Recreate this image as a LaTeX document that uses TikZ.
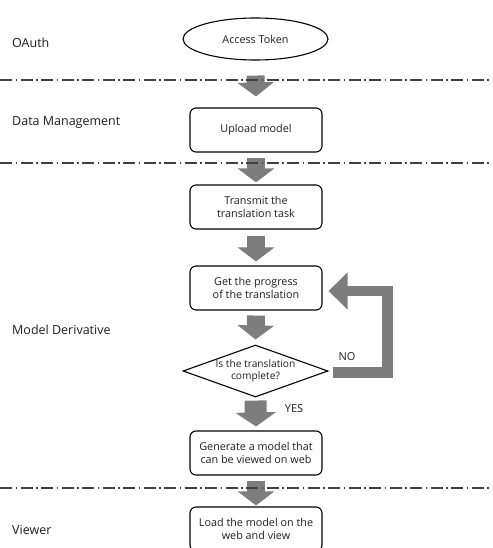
\documentclass[tikz,border=0pt]{standalone}
\usepackage{fontspec}
\setmainfont{Open Sans}
\usetikzlibrary{shapes.geometric,arrows.meta}
\definecolor{arrowgray}{RGB}{125,125,125}
\definecolor{txt}{RGB}{30,30,30}
\tikzset{
  box/.style={draw, line width=1.1pt, rounded corners=6pt, minimum width=132pt, minimum height=44pt, align=center, font=\fontsize{10.8}{13}\selectfont, text=txt, inner sep=1pt},
  oval/.style={draw, ellipse, line width=1.1pt, minimum width=145pt, minimum height=42pt, font=\fontsize{10.8}{13}\selectfont, text=txt, inner sep=0pt},
  decision/.style={draw, diamond, line width=1.1pt, minimum width=145pt, minimum height=52pt, aspect=2.8, align=center, font=\fontsize{10.2}{11.5}\selectfont, text=txt, inner sep=0pt},
  lane/.style={anchor=west, inner sep=0pt, font=\fontsize{12.5}{14}\selectfont, text=txt},
  sep/.style={draw=black!75, line width=1.1pt, dash pattern=on 12pt off 3.5pt on 1.5pt off 3.5pt},
  blockarrow/.style={draw=arrowgray, line width=18pt, -{Triangle[length=14pt, width=36pt]}, arrowgray},
  fbarrow/.style={draw=arrowgray, line width=10.5pt, line join=miter, -{Triangle[length=19pt, width=36pt]}, arrowgray},
  small/.style={font=\fontsize{11}{12}\selectfont, text=txt}
}
\begin{document}
\begin{tikzpicture}[x=1pt,y=-1pt]
\useasboundingbox (0,0) rectangle (492,548);
% separators
\coordinate (s1l) at (0,80);   \coordinate (s1r) at (492,80);
\coordinate (s2l) at (0,163);  \coordinate (s2r) at (492,163);
\coordinate (s3l) at (0,488);  \coordinate (s3r) at (492,488);
% lane labels
\node[lane] (l1) at (12,43) {OAuth};
\node[lane] (l2) at (12,123) {Data Management};
\node[lane] (l3) at (12,330) {Model Derivative};
\node[lane] (l4) at (12,530) {Viewer};
% nodes
\node[oval] (tok) at (255.5,39) {Access Token};
\node[box] (up) at (256,130) {Upload model};
\node[box] (tr) at (256,207) {Transmit the\\translation task};
\node[box] (gp) at (256,288) {Get the progress\\of the translation};
\node[decision] (dc) at (255.5,371) {Is the translation\\complete?};
\node[box] (gen) at (256,453) {Generate a model that\\can be viewed on web};
\node[box] (ld) at (256,529) {Load the model on the\\web and view};
% block arrows
\draw[blockarrow] ([yshift=-15pt]tok.south) -- ([yshift=11pt]up.north);
\draw[sep] (s1l) -- (s1r);
\draw[blockarrow] ([yshift=-5pt]up.south) -- ([yshift=2pt]tr.north);
\draw[sep] (s2l) -- (s2r);
\draw[blockarrow] ([yshift=-6pt]tr.south) -- ([yshift=4pt]gp.north);
\draw[blockarrow] ([yshift=-5pt]gp.south) -- ([yshift=5pt]dc.north);
\draw[blockarrow, line width=22pt, -{Triangle[length=14pt, width=40pt]}] ([yshift=-3pt]dc.south) -- ([yshift=4pt]gen.north);
\draw[blockarrow] ([yshift=-5pt]gen.south) -- ([yshift=1pt]ld.north);
\draw[sep] (s3l) -- (s3r);
% feedback
\coordinate (fb) at (387.5,291);
\draw[fbarrow] ([xshift=4pt,yshift=-1.5pt]dc.east) -| (fb) -- ([xshift=6pt,yshift=-3pt]gp.east);
\node[small] (no) at (347,357) {NO};
\node[small] (yes) at (294,409) {YES};
\end{tikzpicture}
\end{document}
